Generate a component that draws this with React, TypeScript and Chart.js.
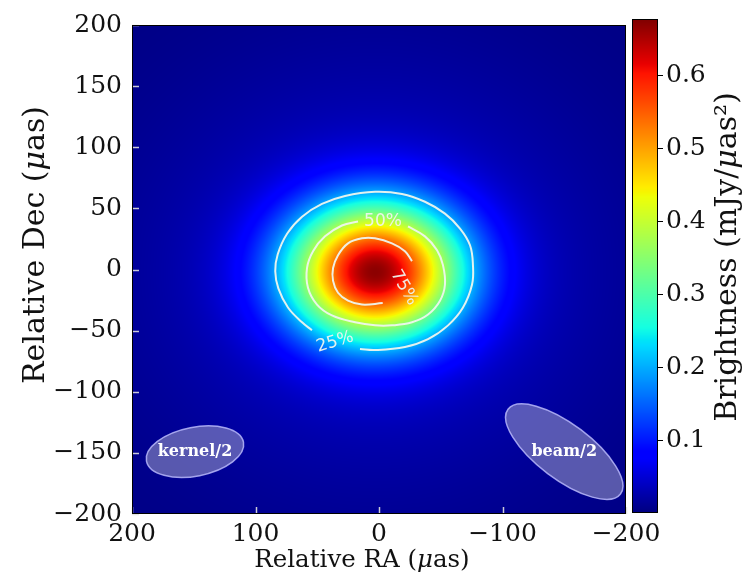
import React, { useEffect, useRef } from "react";
import { Chart, registerables } from "chart.js";
Chart.register(...registerables);

// ---- axis ticks ----
const raTicks = [200, 100, 0, -100, -200];
const decTicks = [200, 150, 100, 50, 0, -50, -100, -150, -200];
const colorTicks = [0.1, 0.2, 0.3, 0.4, 0.5, 0.6];
const colorMin = 0;
const colorMax = 0.677;

// ---- brightness model components: core + faint halo ----
const compAmplitude = [0.62, 0.05];
const compCenterRA = [3, 3];
const compCenterDec = [-2, -2];
const compSigmaRA = [48.5, 130];
const compSigmaDec = [39, 120];

// ---- contours (µas) ----
const contour25RA = [15.4, 3.2, -21, -39.7, -55.9, -68, -75.3, -76.1, -73.7, -65.6, -53.4, -37.2, -18.6, 3.2, 27.5, 46.2, 62.3, 74.3, 82, 84, 81.5, 73.7, 62.3, 54.3];
const contour25Dec = [-65.1, -65.9, -63.4, -57, -45.7, -31.1, -12.5, 3, 19.8, 33.5, 45.7, 55.4, 61.8, 63.6, 60.2, 53.7, 43.2, 29.5, 12.5, -1.5, -15.5, -31.1, -43.2, -49.7];
const contour50RA = [-23.5, -37.2, -47, -51.8, -53.4, -49.4, -39.7, -26.7, -10.5, 3.2, 19.4, 38.1, 50.2, 57.5, 58.3, 53.4, 43.7, 30, 17];
const contour50Dec = [35.2, 27.1, 15.8, 3.6, -12.5, -25.5, -36.8, -43.2, -45.7, -45.7, -43.2, -37.6, -28.7, -14.9, 1.2, 15, 27.1, 36, 39.2];
const contour75RA = [-26.7, -21, -10.5, 3.2, 13.8, 25.1, 33.2, 37.2, 37.2, 33.2, 25.1, 13.8, -3];
const contour75Dec = [6.9, 15, 21.4, 25.5, 25.5, 21.4, 11.7, 1.2, -9.3, -19, -25.5, -28.7, -27.5];

const contourLabels = ["25%", "50%", "75%"];
const contourLabelRA = [35.6, -3.2, -20.2];
const contourLabelDec = [-59.4, 39.6, -14.9];
const contourLabelAngle = [-17, 0, 60];

// ---- kernel / beam ellipses ----
const ellipseNames = ["kernel/2", "beam/2"];
const ellipseRA = [149, -150];
const ellipseDec = [-149, -149];
const ellipseSemiMajor = [40, 57];
const ellipseSemiMinor = [20, 22.5];
const ellipseAngle = [-11, 37];

// ---- jet colormap ----
const jetR = [[0, 0], [0.35, 0], [0.66, 1], [0.89, 1], [1, 0.5]];
const jetG = [[0, 0], [0.125, 0], [0.375, 1], [0.64, 1], [0.91, 0], [1, 0]];
const jetB = [[0, 0.5], [0.11, 1], [0.34, 1], [0.65, 0], [1, 0]];
function seg(s: number[][], t: number) {
  for (let k = 0; k < s.length - 1; k++) {
    if (t <= s[k + 1][0]) {
      const f = (t - s[k][0]) / (s[k + 1][0] - s[k][0]);
      return s[k][1] + f * (s[k + 1][1] - s[k][1]);
    }
  }
  return s[s.length - 1][1];
}
function jet(t: number): [number, number, number] {
  t = Math.max(0, Math.min(1, t));
  return [seg(jetR, t) * 255, seg(jetG, t) * 255, seg(jetB, t) * 255];
}
function brightness(ra: number, dec: number) {
  let v = 0;
  for (let k = 0; k < compAmplitude.length; k++) {
    const dx = (ra - compCenterRA[k]) / compSigmaRA[k];
    const dy = (dec - compCenterDec[k]) / compSigmaDec[k];
    v += compAmplitude[k] * Math.exp(-0.5 * (dx * dx + dy * dy));
  }
  return v;
}

const SERIF = '"DejaVu Serif", "Liberation Serif", serif';
const FS = 25;
const TITLE_X = 24.5;
const TITLE_V = 30;
const fmt = (v: number) => (v < 0 ? "\u2212" + Math.abs(v) : String(v));

function drawRich(ctx: CanvasRenderingContext2D, parts: [string, string][], x: number, y: number, rot = 0) {
  ctx.save();
  ctx.translate(x, y);
  ctx.rotate(rot);
  let total = 0;
  for (const [t, f] of parts) { ctx.font = f; total += ctx.measureText(t).width; }
  let cx = -total / 2;
  ctx.textAlign = "left";
  ctx.textBaseline = "middle";
  ctx.fillStyle = "#111";
  for (const [t, f] of parts) { ctx.font = f; ctx.fillText(t, cx, 0); cx += ctx.measureText(t).width; }
  ctx.restore();
}

const heatmapPlugin = {
  id: "heatmap",
  beforeDatasetsDraw(chart: any) {
    const { ctx, chartArea: a, scales } = chart;
    const xs = scales.x, ys = scales.y;
    const w = Math.round(a.right - a.left), h = Math.round(a.bottom - a.top);
    const off = document.createElement("canvas");
    off.width = w; off.height = h;
    const octx = off.getContext("2d")!;
    const img = octx.createImageData(w, h);
    for (let j = 0; j < h; j++) {
      const dec = ys.getValueForPixel(a.top + j + 0.5);
      for (let i = 0; i < w; i++) {
        const ra = xs.getValueForPixel(a.left + i + 0.5);
        const v = brightness(ra, dec);
        const [r, g, b] = jet((v - colorMin) / (colorMax - colorMin));
        const p = (j * w + i) * 4;
        img.data[p] = r; img.data[p + 1] = g; img.data[p + 2] = b; img.data[p + 3] = 255;
      }
    }
    octx.putImageData(img, 0, 0);
    ctx.save();
    ctx.drawImage(off, a.left, a.top, w, h);
    ctx.restore();
  },
  afterDatasetsDraw(chart: any) {
    const { ctx, chartArea: a, scales } = chart;
    const xs = scales.x, ys = scales.y;
    // contour labels
    ctx.save();
    ctx.font = '17px "DejaVu Sans", sans-serif';
    ctx.fillStyle = "rgba(238,244,238,0.95)";
    ctx.textAlign = "center";
    ctx.textBaseline = "middle";
    contourLabels.forEach((t, k) => {
      ctx.save();
      ctx.translate(xs.getPixelForValue(contourLabelRA[k]), ys.getPixelForValue(contourLabelDec[k]));
      ctx.rotate((contourLabelAngle[k] * Math.PI) / 180);
      ctx.fillText(t, 0, 0);
      ctx.restore();
    });
    ctx.restore();
    // ellipses
    ctx.save();
    ctx.beginPath();
    ctx.rect(a.left, a.top, a.right - a.left, a.bottom - a.top);
    ctx.clip();
    const pxPerRA = Math.abs(xs.getPixelForValue(0) - xs.getPixelForValue(1));
    const pxPerDec = Math.abs(ys.getPixelForValue(0) - ys.getPixelForValue(1));
    ellipseNames.forEach((name, k) => {
      const cx = xs.getPixelForValue(ellipseRA[k]);
      const cy = ys.getPixelForValue(ellipseDec[k]);
      ctx.beginPath();
      ctx.ellipse(cx, cy, ellipseSemiMajor[k] * pxPerRA, ellipseSemiMinor[k] * pxPerDec, (ellipseAngle[k] * Math.PI) / 180, 0, Math.PI * 2);
      ctx.fillStyle = "rgba(175,175,205,0.5)";
      ctx.fill();
      ctx.lineWidth = 1.5;
      ctx.strokeStyle = "rgba(185,185,250,0.85)";
      ctx.stroke();
      ctx.font = 'bold 16px "DejaVu Serif", serif';
      ctx.fillStyle = "#ffffff";
      ctx.textAlign = "center";
      ctx.textBaseline = "middle";
      ctx.fillText(name, cx, cy);
    });
    ctx.restore();
  },
  afterDraw(chart: any) {
    const { ctx, chartArea: a, scales } = chart;
    const xs = scales.x, ys = scales.y;
    ctx.save();
    ctx.strokeStyle = "rgba(225,225,225,0.9)";
    ctx.lineWidth = 1.5;
    raTicks.forEach((v) => {
      const px = Math.round(xs.getPixelForValue(v)) + 0.5;
      ctx.beginPath(); ctx.moveTo(px, a.bottom); ctx.lineTo(px, a.bottom - 7); ctx.stroke();
    });
    decTicks.forEach((v) => {
      const py = Math.round(ys.getPixelForValue(v)) + 0.5;
      ctx.beginPath(); ctx.moveTo(a.left, py); ctx.lineTo(a.left + 7, py); ctx.stroke();
    });
    ctx.strokeStyle = "#000";
    ctx.lineWidth = 1;
    ctx.strokeRect(a.left + 0.5, a.top + 0.5, a.right - a.left - 1, a.bottom - a.top - 1);
    ctx.restore();
    // axis titles
    const n = `${TITLE_X}px ${SERIF}`, it = `italic ${TITLE_X}px ${SERIF}`;
    drawRich(ctx, [["Relative RA (", n], ["\u03bc", it], ["as)", n]], 362, 561);
    const nv = `${TITLE_V}px ${SERIF}`, itv = `italic ${TITLE_V}px ${SERIF}`;
    drawRich(ctx, [["Relative Dec (", nv], ["\u03bc", itv], ["as)", nv]], 36, 245, -Math.PI / 2);
  },
};

const colorbarPlugin = {
  id: "colorbar",
  beforeDatasetsDraw(chart: any) {
    const { ctx, chartArea: a, scales } = chart;
    const ys = scales.y;
    ctx.save();
    for (let py = Math.floor(a.top); py < Math.ceil(a.bottom); py++) {
      const v = ys.getValueForPixel(py + 0.5);
      const [r, g, b] = jet((v - colorMin) / (colorMax - colorMin));
      ctx.fillStyle = `rgb(${r | 0},${g | 0},${b | 0})`;
      ctx.fillRect(a.left, py, a.right - a.left, 1);
    }
    ctx.strokeStyle = "#000";
    ctx.lineWidth = 1;
    ctx.strokeRect(a.left + 0.5, a.top + 0.5, a.right - a.left - 1, a.bottom - a.top - 1);
    ctx.restore();
  },
  afterDraw(chart: any) {
    const { ctx } = chart;
    const n = `${TITLE_V}px ${SERIF}`, it = `italic ${TITLE_V}px ${SERIF}`;
    drawRich(ctx, [["Brightness (mJy/", n], ["\u03bc", it], ["as\u00b2)", n]], 128, 257, -Math.PI / 2);
  },
};

export default function App() {
  const mainRef = useRef<HTMLCanvasElement>(null);
  const barRef = useRef<HTMLCanvasElement>(null);

  useEffect(() => {
    const mk = (ra: number[], dec: number[]) => ra.map((x, i) => ({ x, y: dec[i] }));
    const lineStyle = {
      showLine: true,
      borderColor: "rgba(238,246,238,0.95)",
      borderWidth: 2,
      pointRadius: 0,
      tension: 0.4,
      fill: false,
    };
    const main = new Chart(mainRef.current!, {
      type: "scatter",
      data: {
        datasets: [
          { label: "25%", data: mk(contour25RA, contour25Dec), ...lineStyle },
          { label: "50%", data: mk(contour50RA, contour50Dec), ...lineStyle },
          { label: "75%", data: mk(contour75RA, contour75Dec), ...lineStyle },
        ],
      },
      options: {
        animation: false,
        responsive: false,
        devicePixelRatio: 1,
        layout: { padding: { left: 0, right: 130, top: 19, bottom: 0 } },
        plugins: { legend: { display: false }, tooltip: { enabled: false } },
        scales: {
          x: {
            type: "linear",
            min: -200,
            max: 200,
            reverse: true,
            afterBuildTicks: (s: any) => { s.ticks = raTicks.map((v) => ({ value: v })); },
            afterFit: (s: any) => { s.height = 64; },
            grid: { display: false, drawTicks: false },
            border: { display: false },
            ticks: { autoSkip: false, maxRotation: 0, padding: 5, color: "#111", font: { family: SERIF, size: FS }, callback: (v: any) => fmt(Number(v)) },
          },
          y: {
            type: "linear",
            min: -200,
            max: 200,
            afterBuildTicks: (s: any) => { s.ticks = decTicks.map((v) => ({ value: v })); },
            afterFit: (s: any) => { s.width = 132; },
            grid: { display: false, drawTicks: false },
            border: { display: false },
            ticks: { autoSkip: false, padding: 10, color: "#111", font: { family: SERIF, size: FS }, callback: (v: any) => fmt(Number(v)) },
          },
        },
      },
      plugins: [heatmapPlugin],
    } as any);

    const bar = new Chart(barRef.current!, {
      type: "scatter",
      data: { datasets: [{ data: [] }] },
      options: {
        animation: false,
        responsive: false,
        devicePixelRatio: 1,
        layout: { padding: { left: 32, right: 0, top: 19, bottom: 65 } },
        plugins: { legend: { display: false }, tooltip: { enabled: false } },
        scales: {
          x: { display: false, min: 0, max: 1 },
          y: {
            position: "right",
            min: colorMin,
            max: colorMax,
            afterBuildTicks: (s: any) => { s.ticks = colorTicks.map((v) => ({ value: v })); },
            afterFit: (s: any) => { s.width = 98; },
            grid: { drawOnChartArea: false, drawTicks: true, tickLength: 5, color: "#000", tickWidth: 1 },
            border: { display: false },
            ticks: { padding: 3, color: "#111", font: { family: SERIF, size: FS }, callback: (v: any) => Number(v).toFixed(1) },
          },
        },
      },
      plugins: [colorbarPlugin],
    } as any);

    return () => { main.destroy(); bar.destroy(); };
  }, []);

  return (
    <div style={{ position: "fixed", left: 0, top: 0, width: 756, height: 578, background: "#fff" }}>
      <canvas ref={mainRef} width={756} height={578} style={{ position: "absolute", left: 0, top: 0, width: 756, height: 578 }} />
      <canvas ref={barRef} width={156} height={578} style={{ position: "absolute", left: 600, top: 0, width: 156, height: 578 }} />
    </div>
  );
}
